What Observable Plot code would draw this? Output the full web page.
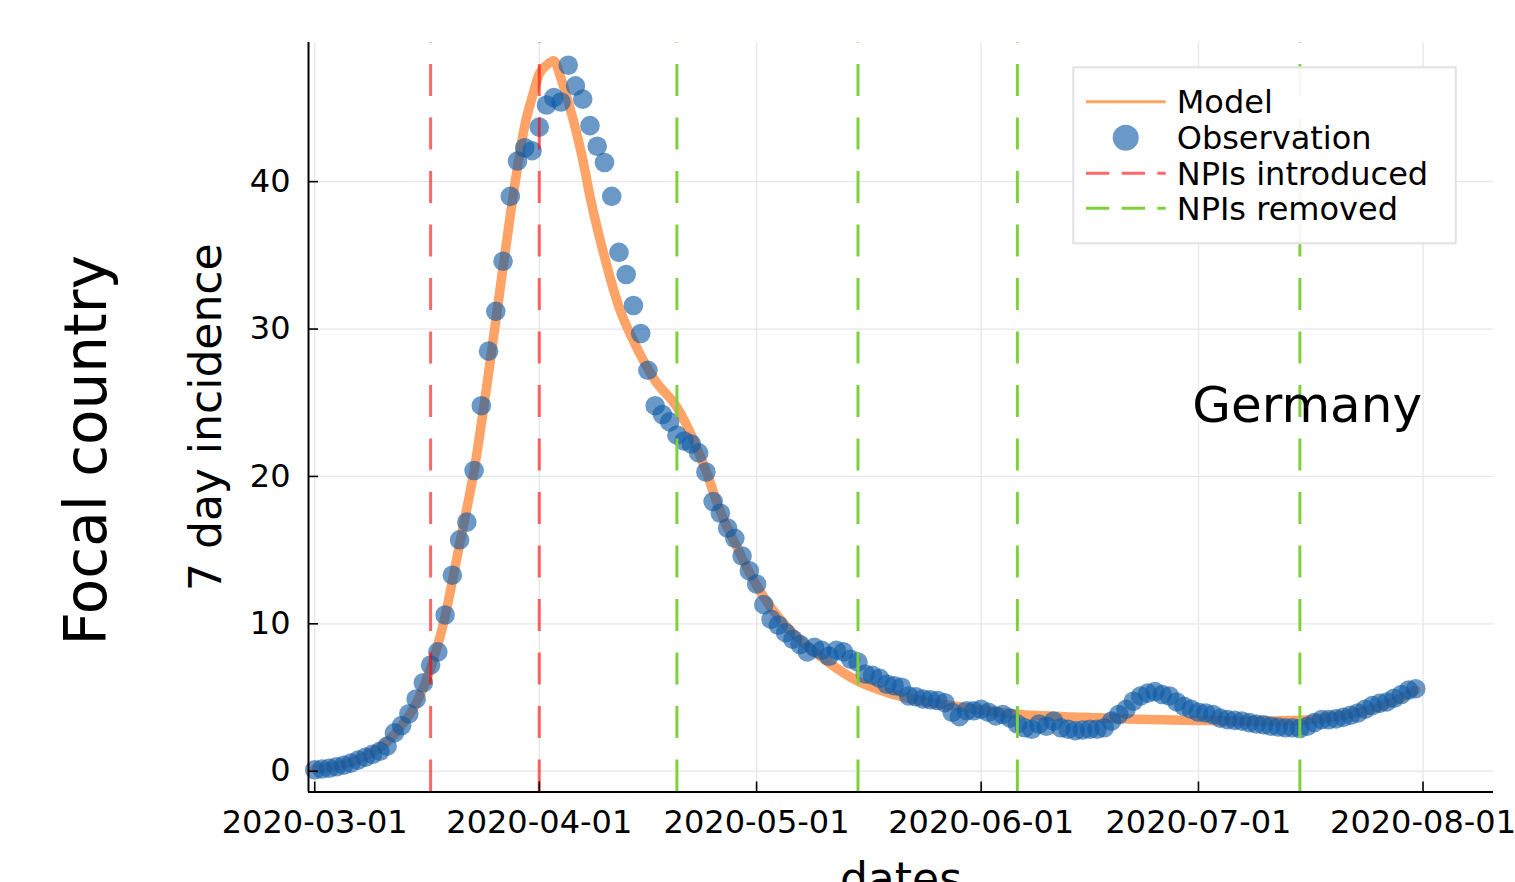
<!DOCTYPE html>
<html><head><meta charset="utf-8">
<script src="https://cdn.jsdelivr.net/npm/d3@7"></script>
<script src="https://cdn.jsdelivr.net/npm/@observablehq/plot@0.6"></script>
<style>
html,body{margin:0;padding:0;background:#fff;overflow:hidden;}
#wrap{position:relative;width:1515px;height:882px;overflow:hidden;font-family:'DejaVu Sans',sans-serif;}
#legend{position:absolute;left:1072px;top:66px;}
</style></head><body><div id="wrap"></div>
<script>
// ---- data ----
const obsStart = "2020-03-01";
const obsValues = [
 0.1,0.15,0.2,0.3,0.4,0.55,0.75,0.95,1.15,1.35,
 1.7,2.6,3.1,3.9,4.9,6.0,7.2,8.1,10.6,13.3,
 15.7,16.9,20.4,24.8,28.5,31.2,34.6,39.0,41.4,42.3,
 42.1,43.7,45.2,45.7,45.4,47.9,46.5,45.6,43.8,42.4,
 41.3,39.0,35.2,33.7,31.6,29.7,27.2,24.8,24.2,23.7,
 22.8,22.4,22.2,21.6,20.3,18.3,17.5,16.5,15.8,14.6,
 13.6,12.7,11.3,10.3,9.9,9.4,8.95,8.6,8.1,8.4,
 8.2,7.8,8.2,8.1,7.6,7.4,6.6,6.5,6.3,5.9,
 5.8,5.7,5.1,5.05,4.9,4.85,4.8,4.65,4.0,3.7,
 4.1,4.1,4.2,4.0,3.75,3.85,3.6,3.2,2.95,2.85,
 3.2,3.05,3.4,2.95,2.85,2.75,2.8,2.85,2.85,2.95,
 3.4,3.85,4.2,4.75,5.1,5.3,5.4,5.2,5.1,4.7,
 4.4,4.2,4.0,3.95,3.85,3.6,3.5,3.45,3.4,3.3,
 3.2,3.15,3.05,3.0,2.95,2.95,2.9,3.05,3.3,3.5,
 3.5,3.55,3.65,3.8,3.95,4.2,4.45,4.6,4.7,4.95,
 5.2,5.5,5.6
];
const modelDates = [
 "2020-03-01","2020-03-04","2020-03-07","2020-03-09","2020-03-11","2020-03-13","2020-03-15","2020-03-17",
 "2020-03-19","2020-03-20","2020-03-21","2020-03-22","2020-03-23","2020-03-25","2020-03-27","2020-03-29",
 "2020-03-30","2020-03-31","2020-04-01","2020-04-02","2020-04-03","2020-04-04","2020-04-05","2020-04-06",
 "2020-04-07","2020-04-08","2020-04-10","2020-04-12","2020-04-14","2020-04-17","2020-04-20","2020-04-22",
 "2020-04-24","2020-04-26","2020-04-28","2020-04-30","2020-05-02","2020-05-05","2020-05-09","2020-05-12",
 "2020-05-15","2020-05-19","2020-05-24","2020-05-28","2020-06-01","2020-06-06","2020-06-15","2020-06-29",
 "2020-07-09","2020-07-15","2020-07-19","2020-07-24","2020-07-27","2020-07-31"
];
const modelValues = [
 0.15,0.35,0.8,1.3,2.0,3.1,4.6,7.0,
 10.5,12.9,15.4,17.8,20.4,27.0,34.2,41.0,
 43.8,45.7,47.3,47.9,48.2,47.0,45.4,43.6,
 41.5,39.0,34.9,31.5,29.2,26.5,24.7,22.8,
 20.4,17.6,15.5,13.5,11.8,9.9,8.1,7.0,
 6.1,5.35,4.75,4.45,4.15,3.86,3.66,3.45,
 3.4,3.45,3.65,4.1,4.55,5.5
];
const npiIntroduced = ["2020-03-17","2020-04-01"];
const npiRemoved = ["2020-04-20","2020-05-15","2020-06-06","2020-07-15"];
const xTicks = ["2020-03-01","2020-04-01","2020-05-01","2020-06-01","2020-07-01","2020-08-01"];
const yTicks = [0,10,20,30,40];
const xDomain = ["2020-02-29T03:25Z","2020-08-10T17:30Z"];
const yDomain = [-1.41, 49.44];
const seriesNames = ["Model","Observation","NPIs introduced","NPIs removed"];
const countryLabel = [{date:"2020-07-16", value:24.8, text:"Germany"}];
const rowLabel = ["Focal country"];
const xLabel = ["dates"];
const yLabel = ["7 day incidence"];

// ---- styles ----
const modelColor = "#ffa366";
const obsColor = "#0f5ba7";
const introColor = "#ff0000";
const removedColor = "#7fd13b";
const gridColor = "#e6e6ea";

const P = s => new Date(s.length === 10 ? s + "T00:00Z" : s);
const obs = obsValues.map((v,i) => ({date: d3.utcDay.offset(P(obsStart), i), value: v}));
const model = modelDates.map((d,i) => ({date: P(d), value: modelValues[i]}));
const xTickDates = xTicks.map(P);
const introDates = npiIntroduced.map(P);
const removedDates = npiRemoved.map(P);
const xDom = xDomain.map(P);

const chart = Plot.plot({
  width: 1515, height: 882,
  marginLeft: 308, marginRight: 22, marginTop: 42, marginBottom: 90.5,
  style: {fontFamily: "'DejaVu Sans', sans-serif", fontSize: "32px", background: "white", overflow: "visible"},
  x: {type: "utc", domain: xDom},
  y: {domain: yDomain},
  marks: [
    Plot.gridX(xTickDates, {stroke: gridColor, strokeOpacity: 1, strokeWidth: 1.3}),
    Plot.gridY(yTicks, {stroke: gridColor, strokeOpacity: 1, strokeWidth: 1.3}),
    Plot.line(model, {x: "date", y: "value", stroke: modelColor, strokeWidth: 9.5, curve: "monotone-x"}),
    Plot.dot(obs, {x: "date", y: "value", r: 9.8, fill: obsColor, fillOpacity: 0.62, stroke: "none"}),
    Plot.ruleX(introDates, {x: d => d, y1: yDomain[0], y2: yDomain[1], stroke: introColor, strokeOpacity: 0.6, strokeWidth: 3, strokeDasharray: "32,21.5"}),
    Plot.ruleX(removedDates, {x: d => d, y1: yDomain[0], y2: yDomain[1], stroke: removedColor, strokeWidth: 3, strokeDasharray: "32,21.5"}),
    Plot.ruleX([xDom[0]], {x: d => d, stroke: "black", strokeWidth: 2}),
    Plot.ruleY([yDomain[0]], {y: d => d, stroke: "black", strokeWidth: 2}),
    Plot.axisY(yTicks, {tickSize: 10, dx: 10, fill: "none", stroke: "black", strokeWidth: 1.6, label: null}),
    Plot.axisY(yTicks, {tickSize: 0, tickPadding: 18, fontSize: 32, fill: "black", label: null}),
    Plot.axisX(xTickDates, {tickSize: 10, dy: -10, fill: "none", stroke: "black", strokeWidth: 1.6, label: null}),
    Plot.axisX(xTickDates, {tickSize: 0, tickPadding: 18.5, tickFormat: d3.utcFormat("%Y-%m-%d"), fontSize: 32, fill: "black", label: null}),
    Plot.text(countryLabel, {x: d => P(d.date), y: "value", text: "text", fontSize: 50, fill: "black"}),
    Plot.text(yLabel, {text: d => d, frameAnchor: "left", textAnchor: "middle", dx: -88, rotate: -90, lineAnchor: "bottom", fontSize: 44, fill: "black"}),
    Plot.text(rowLabel, {text: d => d, frameAnchor: "left", textAnchor: "middle", dx: -203, dy: 33, rotate: -90, lineAnchor: "bottom", fontSize: 58, fill: "black"}),
    Plot.text(xLabel, {text: d => d, frameAnchor: "bottom", textAnchor: "middle", dy: 101.5, lineAnchor: "bottom", fontSize: 44, fill: "black"})
  ]
});
const wrap = document.getElementById("wrap");
wrap.appendChild(chart);

// ---- legend (inside plot, top right) ----
const NS = "http://www.w3.org/2000/svg";
const lg = document.createElementNS(NS, "svg");
lg.setAttribute("id", "legend");
lg.setAttribute("width", 386); lg.setAttribute("height", 180);
lg.setAttribute("font-family", "DejaVu Sans");
lg.setAttribute("font-size", "32");
function el(tag, attrs, text) {
  const e = document.createElementNS(NS, tag);
  for (const k in attrs) e.setAttribute(k, attrs[k]);
  if (text) e.textContent = text;
  lg.appendChild(e); return e;
}
el("rect", {x: 1.3, y: 1.3, width: 382.4, height: 176, fill: "white", "fill-opacity": 0.92, stroke: "#e2e2e6", "stroke-width": 2});
const ox = 1.3, oy = 1.3;
const rowsY = [34.4, 70.4, 106, 141];
const baseY = [46, 81.5, 117.5, 153];
el("line", {x1: ox+12.7, x2: ox+92.4, y1: oy+rowsY[0], y2: oy+rowsY[0], stroke: modelColor, "stroke-width": 3});
el("circle", {cx: ox+52.4, cy: oy+rowsY[1], r: 13, fill: obsColor, "fill-opacity": 0.62});
el("line", {x1: ox+12.7, x2: ox+92.4, y1: oy+rowsY[2], y2: oy+rowsY[2], stroke: introColor, "stroke-opacity": 0.6, "stroke-width": 3, "stroke-dasharray": "23.3,12.4"});
el("line", {x1: ox+12.7, x2: ox+92.4, y1: oy+rowsY[3], y2: oy+rowsY[3], stroke: removedColor, "stroke-width": 3, "stroke-dasharray": "23.3,12.4"});
seriesNames.forEach((n, i) => el("text", {x: ox+103.4, y: oy+baseY[i], fill: "black"}, n));
wrap.appendChild(lg);
</script>
</body></html>
